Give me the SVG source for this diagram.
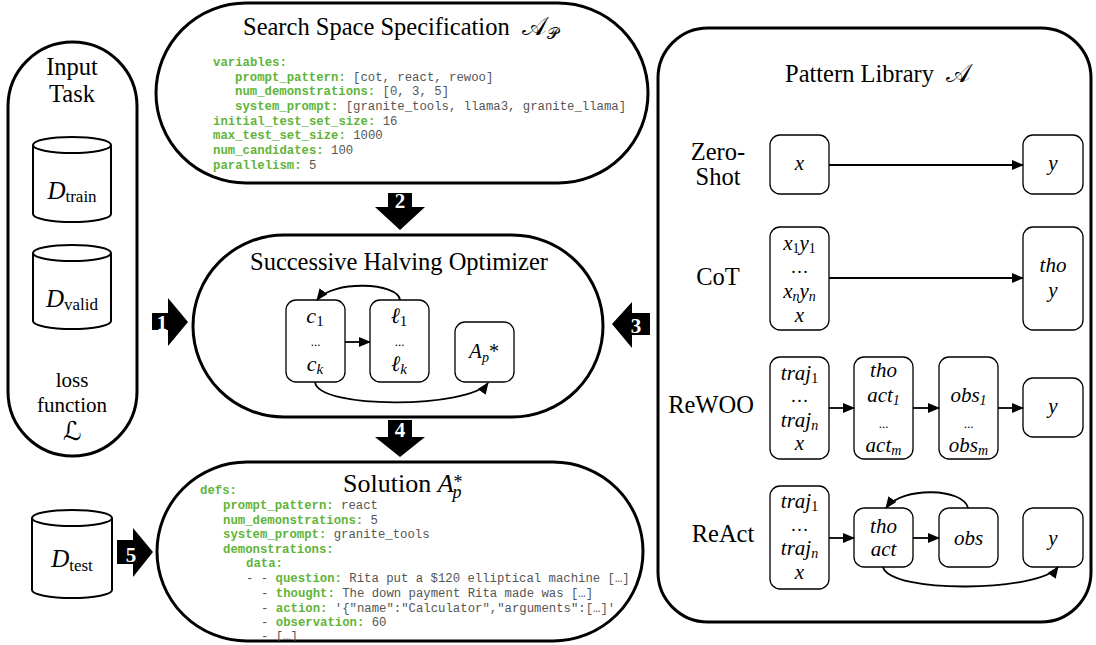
<svg xmlns="http://www.w3.org/2000/svg" width="1096" height="645" viewBox="0 0 1096 645">
<style>
.pill{fill:#fff;stroke:#000;stroke-width:3}
.box{fill:#fff;stroke:#000;stroke-width:1.3}
.cyl{fill:#fff;stroke:#000;stroke-width:2}
.t{font-family:"Liberation Serif","Times New Roman",serif;fill:#000}
.ti{font-family:"Liberation Serif","Times New Roman",serif;font-style:italic;fill:#000}
.title{font-size:24.5px}
.lbl{font-size:24.5px;text-anchor:middle}
.nd{font-size:21px;text-anchor:middle;font-style:italic}
.code{font-family:"Liberation Mono","Courier New",monospace;font-size:12.3px;fill:#555}
.k{fill:#5fb43a;font-weight:bold}
.num{font-family:"Liberation Serif","Times New Roman",serif;font-weight:bold;font-size:21px;fill:#fff;text-anchor:middle}
.cal{font-family:"DejaVu Serif","DejaVu Sans",serif;font-style:normal}
.conn{fill:none;stroke:#000;stroke-width:1.8}
</style>
<defs>
<marker id="ah" markerUnits="userSpaceOnUse" markerWidth="12" markerHeight="10" refX="11" refY="5" orient="auto">
<path d="M0,0 L12,5 L0,10 z" fill="#000"/>
</marker>
<clipPath id="solclip"><rect x="157" y="462" width="486" height="179" rx="90"/></clipPath>
</defs>

<g id="input-task">
<rect class="pill" x="8" y="42" width="129" height="414" rx="64.5"/>
<text class="t lbl" x="72" y="75">Input</text>
<text class="t lbl" x="72" y="102">Task</text>
<g id="d-train">
<path class="cyl" d="M33,145 L33,214 A39,8 0 0 0 111,214 L111,145"/>
<ellipse class="cyl" cx="72" cy="145" rx="39" ry="8"/>
<text class="t" x="72" y="199" text-anchor="middle" font-size="25"><tspan font-style="italic">D</tspan><tspan font-size="17" dy="3">train</tspan></text>
</g>
<g id="d-valid">
<path class="cyl" d="M33,253 L33,321 A39,8 0 0 0 111,321 L111,253"/>
<ellipse class="cyl" cx="72" cy="253" rx="39" ry="8"/>
<text class="t" x="72" y="307" text-anchor="middle" font-size="25"><tspan font-style="italic">D</tspan><tspan font-size="17" dy="3">valid</tspan></text>
</g>
<text class="t" x="72" y="387" text-anchor="middle" font-size="21">loss</text>
<text class="t" x="72" y="412" text-anchor="middle" font-size="21">function</text>
<text class="t cal" x="72" y="440" text-anchor="middle" font-size="26">ℒ</text>
</g>

<g id="search-space">
<rect class="pill" x="156" y="3" width="492" height="180" rx="90"/>
<text class="t title" x="243" y="35">Search Space Specification <tspan class="cal" font-size="26" dx="6">𝒜</tspan><tspan class="cal" font-size="16" dy="4">𝒫</tspan></text>
<text class="code" x="213" y="66"><tspan class="k">variables:</tspan></text>
<text class="code" x="235" y="80.5"><tspan class="k">prompt_pattern:</tspan> [cot, react, rewoo]</text>
<text class="code" x="235" y="95"><tspan class="k">num_demonstrations:</tspan> [0, 3, 5]</text>
<text class="code" x="235" y="110"><tspan class="k">system_prompt:</tspan> [granite_tools, llama3, granite_llama]</text>
<text class="code" x="213" y="124.5"><tspan class="k">initial_test_set_size:</tspan> 16</text>
<text class="code" x="213" y="139"><tspan class="k">max_test_set_size:</tspan> 1000</text>
<text class="code" x="213" y="154"><tspan class="k">num_candidates:</tspan> 100</text>
<text class="code" x="213" y="168.5"><tspan class="k">parallelism:</tspan> 5</text>
</g>

<g id="optimizer">
<rect class="pill" x="193" y="235" width="410" height="182" rx="91"/>
<text class="t title" x="250" y="270">Successive Halving Optimizer</text>
<g id="candidates">
<rect class="box" x="286" y="300" width="59" height="82" rx="10"/>
<text class="ti" x="315" y="323" text-anchor="middle" font-size="22">c<tspan font-style="normal" font-size="15" dy="3">1</tspan></text>
<text class="t" x="315.5" y="346" text-anchor="middle" font-size="13">...</text>
<text class="ti" x="315" y="371" text-anchor="middle" font-size="22">c<tspan font-size="15" dy="3">k</tspan></text>
</g>
<g id="losses">
<rect class="box" x="370" y="300" width="59" height="82" rx="10"/>
<text class="ti" x="399" y="323" text-anchor="middle" font-size="22">ℓ<tspan font-style="normal" font-size="15" dy="3">1</tspan></text>
<text class="t" x="399.5" y="346" text-anchor="middle" font-size="13">...</text>
<text class="ti" x="399" y="371" text-anchor="middle" font-size="22">ℓ<tspan font-size="15" dy="3">k</tspan></text>
</g>
<g id="best">
<rect class="box" x="455" y="322" width="59" height="60" rx="10"/>
<text class="ti" x="484" y="358" text-anchor="middle" font-size="21">A<tspan font-size="14" dy="4">p</tspan><tspan font-style="normal" font-size="20" dy="-4">*</tspan></text>
</g>
</g>

<g id="solution">
<rect class="pill" x="157" y="462" width="486" height="179" rx="90"/>
<text class="t" x="343" y="492" font-size="26">Solution <tspan font-style="italic">A</tspan><tspan font-style="italic" font-size="18" dx="-1" dy="6">p</tspan><tspan font-size="18" dx="-8" dy="-10">*</tspan></text>
<g xml:space="preserve">
<text class="code" x="200" y="494"><tspan class="k">defs:</tspan></text>
<text class="code" x="223" y="509"><tspan class="k">prompt_pattern:</tspan> react</text>
<text class="code" x="223" y="523.5"><tspan class="k">num_demonstrations:</tspan> 5</text>
<text class="code" x="223" y="538"><tspan class="k">system_prompt:</tspan> granite_tools</text>
<text class="code" x="223" y="552.5"><tspan class="k">demonstrations:</tspan></text>
<text class="code" x="246" y="567"><tspan class="k">data:</tspan></text>
<text class="code" x="246" y="582">- - <tspan class="k">question:</tspan> Rita put a $120 elliptical machine […]</text>
<text class="code" x="261" y="597">- <tspan class="k">thought:</tspan> The down payment Rita made was […]</text>
<text class="code" x="261" y="611.5">- <tspan class="k">action:</tspan> '{"name":"Calculator","arguments":[…]'</text>
<text class="code" x="261" y="626">- <tspan class="k">observation:</tspan> 60</text>
<text class="code" x="261" y="640" clip-path="url(#solclip)">- […]</text>
</g>
</g>

<g id="d-test">
<path class="cyl" d="M32,518 L32,590 A40,8 0 0 0 112,590 L112,518"/>
<ellipse class="cyl" cx="72" cy="518" rx="40" ry="8"/>
<text class="t" x="72" y="567" text-anchor="middle" font-size="25"><tspan font-style="italic">D</tspan><tspan font-size="17" dy="4">test</tspan></text>
</g>

<g id="pattern-library">
<rect class="pill" x="658" y="28" width="433" height="594" rx="50"/>
<text class="t title" x="785" y="82">Pattern Library <tspan class="cal" font-size="26" dx="6">𝒜</tspan></text>

<g id="zero-shot">
<text class="t lbl" x="718" y="160">Zero-</text>
<text class="t lbl" x="718" y="185">Shot</text>
<rect class="box" x="770" y="135" width="59" height="59" rx="10"/>
<text class="ti nd" x="799.5" y="170">x</text>
<rect class="box" x="1023" y="135" width="60" height="59" rx="10"/>
<text class="ti nd" x="1053" y="170">y</text>
</g>

<g id="cot">
<text class="t lbl" x="718" y="285">CoT</text>
<rect class="box" x="770" y="227" width="59" height="103" rx="10"/>
<text class="ti" x="799.5" y="250" text-anchor="middle" font-size="21">x<tspan font-style="normal" font-size="14" dy="3">1</tspan><tspan dy="-3">y</tspan><tspan font-style="normal" font-size="14" dy="3">1</tspan></text>
<text class="t" x="799.5" y="273" text-anchor="middle" font-size="18">…</text>
<text class="ti" x="799.5" y="298" text-anchor="middle" font-size="21">x<tspan font-size="14" dy="3">n</tspan><tspan dy="-3">y</tspan><tspan font-size="14" dy="3">n</tspan></text>
<text class="ti nd" x="799.5" y="322">x</text>
<rect class="box" x="1023" y="227" width="60" height="103" rx="10"/>
<text class="ti nd" x="1053" y="272">tho</text>
<text class="ti nd" x="1053" y="297">y</text>
</g>

<g id="rewoo">
<text class="t lbl" x="711" y="413">ReWOO</text>
<rect class="box" x="770" y="357" width="59" height="102" rx="10"/>
<text class="ti" x="799.5" y="380" text-anchor="middle" font-size="21">traj<tspan font-style="normal" font-size="14" dy="3">1</tspan></text>
<text class="t" x="799.5" y="402" text-anchor="middle" font-size="18">…</text>
<text class="ti" x="799.5" y="427" text-anchor="middle" font-size="21">traj<tspan font-size="14" dy="3">n</tspan></text>
<text class="ti nd" x="799.5" y="450">x</text>
<rect class="box" x="854" y="357" width="59" height="102" rx="10"/>
<text class="ti nd" x="883.5" y="377">tho</text>
<text class="ti" x="883.5" y="402" text-anchor="middle" font-size="21">act<tspan font-size="14" dy="3">1</tspan></text>
<text class="t" x="883.5" y="428" text-anchor="middle" font-size="13">...</text>
<text class="ti" x="883.5" y="452" text-anchor="middle" font-size="21">act<tspan font-size="14" dy="3">m</tspan></text>
<rect class="box" x="939" y="357" width="59" height="102" rx="10"/>
<text class="ti" x="968.5" y="402" text-anchor="middle" font-size="21">obs<tspan font-size="14" dy="3">1</tspan></text>
<text class="t" x="968.5" y="428" text-anchor="middle" font-size="13">...</text>
<text class="ti" x="968.5" y="452" text-anchor="middle" font-size="21">obs<tspan font-size="14" dy="3">m</tspan></text>
<rect class="box" x="1023" y="378" width="60" height="59" rx="10"/>
<text class="ti nd" x="1053" y="413">y</text>
</g>

<g id="react">
<text class="t lbl" x="723" y="542">ReAct</text>
<rect class="box" x="770" y="486" width="59" height="103" rx="10"/>
<text class="ti" x="799.5" y="508" text-anchor="middle" font-size="21">traj<tspan font-style="normal" font-size="14" dy="3">1</tspan></text>
<text class="t" x="799.5" y="531" text-anchor="middle" font-size="18">…</text>
<text class="ti" x="799.5" y="555" text-anchor="middle" font-size="21">traj<tspan font-size="14" dy="3">n</tspan></text>
<text class="ti nd" x="799.5" y="579">x</text>
<rect class="box" x="854" y="508" width="59" height="59" rx="10"/>
<text class="ti nd" x="883.5" y="533">tho</text>
<text class="ti nd" x="883.5" y="556">act</text>
<rect class="box" x="939" y="508" width="59" height="59" rx="10"/>
<text class="ti nd" x="968.5" y="545">obs</text>
<rect class="box" x="1023" y="508" width="60" height="59" rx="10"/>
<text class="ti nd" x="1053" y="545">y</text>
</g>
</g>

<g id="connectors">
<path id="arrow1" d="M152,313 H168 V298 L188,322 L168,346 V330 H152 Z" fill="#000"/>
<text class="num" x="162" y="330">1</text>
<path id="arrow2" d="M388,193 H412 V207 H425 L400,230 L375,207 H388 Z" fill="#000"/>
<text class="num" x="400" y="208">2</text>
<path id="arrow3" d="M650,313 H632 V302 L612,324 L632,348 V335 H650 Z" fill="#000"/>
<text class="num" x="636" y="333">3</text>
<path id="arrow4" d="M388,420 H412 V437 H425 L400,457 L375,437 H388 Z" fill="#000"/>
<text class="num" x="400" y="437">4</text>
<path id="arrow5" d="M117,540 H133 V528 L153,552 L133,577 V564 H117 Z" fill="#000"/>
<text class="num" x="131" y="562">5</text>

<line class="conn" x1="345" y1="342" x2="370" y2="342" marker-end="url(#ah)"/>
<path class="conn" d="M400,300 C398,282 332,280 317,300" marker-end="url(#ah)"/>
<path class="conn" d="M315,382 C318,410 470,408 488,383" marker-end="url(#ah)"/>

<line class="conn" x1="829" y1="165" x2="1023" y2="165" marker-end="url(#ah)"/>
<line class="conn" x1="829" y1="278" x2="1023" y2="278" marker-end="url(#ah)"/>
<line class="conn" x1="829" y1="408" x2="854" y2="408" marker-end="url(#ah)"/>
<line class="conn" x1="913" y1="408" x2="939" y2="408" marker-end="url(#ah)"/>
<line class="conn" x1="998" y1="408" x2="1023" y2="408" marker-end="url(#ah)"/>
<line class="conn" x1="829" y1="538" x2="854" y2="538" marker-end="url(#ah)"/>
<line class="conn" x1="913" y1="538" x2="939" y2="538" marker-end="url(#ah)"/>
<path class="conn" d="M968,508 C964,488 902,486 886,508" marker-end="url(#ah)"/>
<path class="conn" d="M883,567 C890,594 1040,592 1058,567" marker-end="url(#ah)"/>
</g>
</svg>
